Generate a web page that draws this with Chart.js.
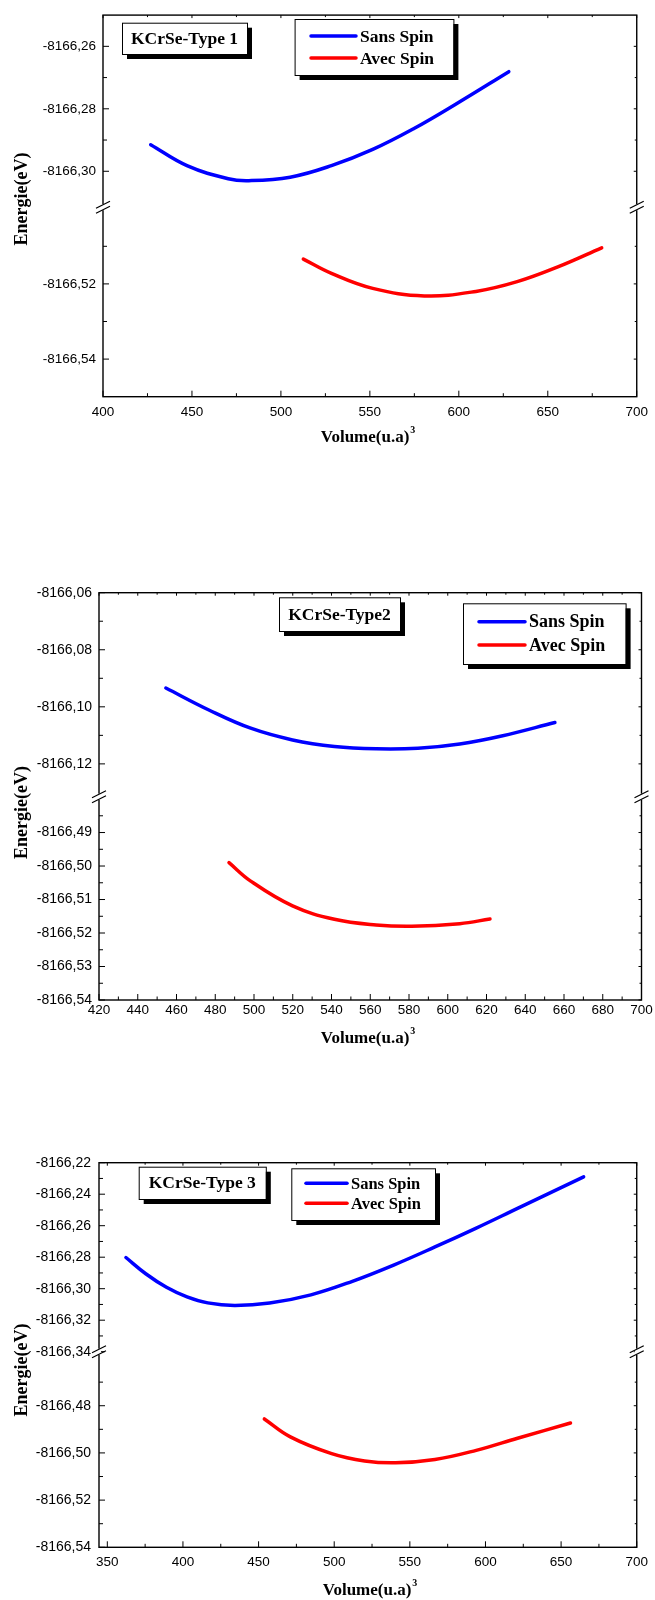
<!DOCTYPE html>
<html>
<head>
<meta charset="utf-8">
<script src="https://cdn.jsdelivr.net/npm/chart.js@4.4.1/dist/chart.umd.min.js"></script>
<style>
html,body{margin:0;padding:0;background:#fff;}
body{width:655px;height:1600px;position:relative;overflow:hidden;}
canvas{position:absolute;left:0;}
</style>
</head>
<body>
<canvas id="c1" width="655" height="450" style="top:0px"></canvas>
<canvas id="c2" width="655" height="490" style="top:560px"></canvas>
<canvas id="c3" width="655" height="480" style="top:1120px"></canvas>
<script>
// --- data ---
// KCrSe-Type 1
const volSans1 = [426.8, 447.2, 470.4, 482.0, 505.2, 528.4, 551.6, 574.8, 598.0, 628.1];
const eSans1   = [-8166.2915, -8166.2982, -8166.3024, -8166.3030, -8166.3019, -8166.2982, -8166.2930, -8166.2863, -8166.2786, -8166.2681];
const volAvec1 = [512.6, 528.4, 551.6, 580.6, 609.6, 632.8, 656.0, 680.3];
const eAvec1   = [-8166.5134, -8166.5172, -8166.5212, -8166.5232, -8166.5220, -8166.5194, -8166.5154, -8166.5104];
// KCrSe-Type2
const volSans2 = [454.5, 476.7, 498.3, 519.9, 541.5, 563.0, 584.6, 606.2, 627.8, 655.3];
const eSans2   = [-8166.0934, -8166.1011, -8166.1075, -8166.1116, -8166.1139, -8166.1147, -8166.1145, -8166.1130, -8166.1102, -8166.1055];
const volAvec2 = [487.1, 498.3, 519.9, 541.5, 563.0, 581.4, 606.2, 621.8];
const eAvec2   = [-8166.4990, -8166.5045, -8166.5119, -8166.5159, -8166.5176, -8166.5180, -8166.5172, -8166.5158];
// KCrSe-Type 3
const volSans3 = [362.3, 375.4, 389.1, 402.7, 416.4, 434.1, 457.3, 484.6, 512.0, 539.3, 566.6, 593.9, 621.2, 664.9];
const eSans3   = [-8166.2802, -8166.2905, -8166.2991, -8166.3052, -8166.3090, -8166.3106, -8166.3091, -8166.3039, -8166.2953, -8166.2850, -8166.2735, -8166.2615, -8166.2490, -8166.2290];
const volAvec3 = [453.8, 471.0, 498.3, 520.1, 540.6, 566.6, 593.9, 621.2, 656.2];
const eAvec3   = [-8166.4856, -8166.4932, -8166.5003, -8166.5034, -8166.5042, -8166.5028, -8166.4989, -8166.4938, -8166.4873];

// tick labels
const xTicks1 = [400, 450, 500, 550, 600, 650, 700];
const xMinor1 = [425, 475, 525, 575, 625, 675];
const yUpTicks1 = [-8166.26, -8166.28, -8166.30];
const yUpMinor1 = [-8166.27, -8166.29];
const yLowTicks1 = [-8166.52, -8166.54];
const yLowMinor1 = [-8166.51, -8166.53];

const xTicks2 = [420, 440, 460, 480, 500, 520, 540, 560, 580, 600, 620, 640, 660, 680, 700];
const xMinor2 = [430, 450, 470, 490, 510, 530, 550, 570, 590, 610, 630, 650, 670, 690];
const yUpTicks2 = [-8166.06, -8166.08, -8166.10, -8166.12];
const yUpMinor2 = [-8166.07, -8166.09, -8166.11];
const yLowTicks2 = [-8166.49, -8166.50, -8166.51, -8166.52, -8166.53, -8166.54];
const yLowMinor2 = [-8166.485, -8166.495, -8166.505, -8166.515, -8166.525, -8166.535];

const xTicks3 = [350, 400, 450, 500, 550, 600, 650, 700];
const xMinor3 = [375, 425, 475, 525, 575, 625, 675];
const yUpTicks3 = [-8166.22, -8166.24, -8166.26, -8166.28, -8166.30, -8166.32, -8166.34];
const yUpMinor3 = [-8166.23, -8166.25, -8166.27, -8166.29, -8166.31, -8166.33];
const yLowTicks3 = [-8166.48, -8166.50, -8166.52, -8166.54];
const yLowMinor3 = [-8166.47, -8166.49, -8166.51, -8166.53];

const SERIF = '"Liberation Serif", "Times New Roman", serif';
const SANS = '"Liberation Sans", Arial, sans-serif';

function pts(v, e){ return v.map((x, i) => ({x: x, y: e[i]})); }
function fmt(v){ return v.toFixed(2).replace('.', ','); }

function shadowBox(ctx, x, y, w, h){
  ctx.fillStyle = '#000';
  ctx.fillRect(x + 5, y + 5, w, h);
  ctx.fillStyle = '#fff';
  ctx.fillRect(x, y, w, h);
  ctx.strokeStyle = '#000';
  ctx.lineWidth = 1;
  ctx.strokeRect(x + 0.5, y + 0.5, w, h);
}

// frame, inner ticks, axis break, boxes and titles
const frame = {
  id: 'frame',
  afterDraw(chart, args, o){
    const ctx = chart.ctx, a = chart.chartArea;
    const sx = chart.scales.x, su = chart.scales.yUp, sl = chart.scales.yLow;
    ctx.save();
    ctx.strokeStyle = '#000';
    ctx.lineWidth = 1.4;
    ctx.strokeRect(a.left, a.top, a.right - a.left, a.bottom - a.top);

    ctx.lineWidth = 1;
    ctx.beginPath();
    const tx = (v, len, len2) => {
      const p = sx.getPixelForValue(v);
      ctx.moveTo(p, a.bottom); ctx.lineTo(p, a.bottom - len);
      ctx.moveTo(p, a.top); ctx.lineTo(p, a.top + len2);
    };
    const ty = (s, v, len, len2) => {
      const p = s.getPixelForValue(v);
      ctx.moveTo(a.left, p); ctx.lineTo(a.left + len, p);
      ctx.moveTo(a.right, p); ctx.lineTo(a.right - len2, p);
    };
    sx.ticks.forEach(t => tx(t.value, 6, 3));
    o.xMinor.forEach(v => tx(v, 3.5, 2));
    su.ticks.forEach(t => ty(su, t.value, 6, 3));
    sl.ticks.forEach(t => ty(sl, t.value, 6, 3));
    o.yUpMinor.forEach(v => ty(su, v, 4, 2));
    o.yLowMinor.forEach(v => ty(sl, v, 4, 2));
    ctx.stroke();

    // break marks
    const by = su.bottom;
    [a.left, a.right].forEach(x => {
      ctx.fillStyle = '#fff';
      ctx.fillRect(x - 2, by - 3, 4, 6);
      ctx.beginPath();
      ctx.lineWidth = 1.2;
      ctx.moveTo(x - 7, by + 1); ctx.lineTo(x + 7, by - 6);
      ctx.moveTo(x - 7, by + 6); ctx.lineTo(x + 7, by - 1);
      ctx.stroke();
    });

    // title box
    const t = o.title;
    shadowBox(ctx, t.x, t.y, t.w, t.h);
    ctx.fillStyle = '#000';
    ctx.font = 'bold 17.5px ' + SERIF;
    ctx.textAlign = 'center';
    ctx.textBaseline = 'middle';
    ctx.fillText(t.text, t.x + t.w / 2, t.y + t.h / 2 + 1);

    // legend box
    const L = o.leg;
    shadowBox(ctx, L.x, L.y, L.w, L.h);
    ctx.textAlign = 'left';
    ctx.font = 'bold ' + L.size + 'px ' + SERIF;
    chart.data.datasets.forEach((ds, i) => {
      const yy = L.rows[i];
      ctx.strokeStyle = ds.borderColor;
      ctx.lineWidth = 3.5;
      ctx.lineCap = 'round';
      ctx.beginPath();
      ctx.moveTo(L.x1, yy); ctx.lineTo(L.x2, yy);
      ctx.stroke();
      ctx.fillStyle = '#000';
      ctx.fillText(ds.label, L.tx, yy + 1);
    });

    // axis titles
    ctx.font = 'bold 18px ' + SERIF;
    ctx.textAlign = 'center';
    ctx.save();
    ctx.translate(o.yTitle[0], o.yTitle[1]);
    ctx.rotate(-Math.PI / 2);
    ctx.fillText('Energie(eV)', 0, 0);
    ctx.restore();
    ctx.font = 'bold 17px ' + SERIF;
    const main = 'Volume(u.a)';
    const w = ctx.measureText(main).width;
    const cx = o.xTitle[0], cy = o.xTitle[1];
    ctx.textAlign = 'left';
    ctx.fillText(main, cx - (w + 6) / 2, cy);
    ctx.font = 'bold 10px ' + SERIF;
    ctx.fillText('3', cx - (w + 6) / 2 + w + 1, cy - 8);
    ctx.restore();
  }
};

function energyChart(id, p){
  const yAxis = (ticks, range, weight, fs, pad) => ({
    type: 'linear', position: 'left', stack: 'e', stackWeight: weight,
    min: range[0], max: range[1],
    grid: {display: false, drawTicks: false}, border: {display: false},
    ticks: {color: '#000', font: {family: SANS, size: fs}, padding: pad, autoSkip: false, callback: v => fmt(v)},
    afterBuildTicks: s => { s.ticks = ticks.map(v => ({value: v})); },
    afterFit: s => { s.width = p.left; }
  });
  return new Chart(document.getElementById(id), {
    type: 'line',
    data: {
      datasets: [
        {label: 'Sans Spin', data: pts(p.vs, p.es), borderColor: '#0000ff', yAxisID: 'yUp'},
        {label: 'Avec Spin', data: pts(p.va, p.ea), borderColor: '#ff0000', yAxisID: 'yLow'}
      ]
    },
    options: {
      responsive: false,
      animation: false,
      elements: {
        point: {radius: 0},
        line: {borderWidth: 3.5, tension: 0.4, borderCapStyle: 'round', fill: false}
      },
      layout: {padding: {left: 0, top: p.top, right: 655 - p.right, bottom: 0}},
      plugins: {
        legend: {display: false},
        tooltip: {enabled: false},
        frame: {xMinor: p.xMinor, yUpMinor: p.yUpMinor, yLowMinor: p.yLowMinor,
                title: p.title, leg: p.leg, yTitle: p.yTitle, xTitle: p.xTitle}
      },
      scales: {
        x: {
          type: 'linear', min: p.xRange[0], max: p.xRange[1],
          grid: {display: false, drawTicks: false}, border: {display: false},
          ticks: {color: '#000', font: {family: SANS, size: p.xfs}, padding: p.xpad, autoSkip: false, maxRotation: 0},
          afterBuildTicks: s => { s.ticks = p.xTicks.map(v => ({value: v})); },
          afterFit: s => { s.height = p.h - p.bottom; }
        },
        // stacked axes: the first one listed sits at the bottom
        yLow: yAxis(p.yLowTicks, p.yLowRange, p.wLow, p.yfs, p.ypad),
        yUp: yAxis(p.yUpTicks, p.yUpRange, p.wUp, p.yfs, p.ypad)
      }
    },
    plugins: [frame]
  });
}

energyChart('c1', {
  vs: volSans1, es: eSans1, va: volAvec1, ea: eAvec1,
  h: 450, left: 103, right: 643.5, top: 14.7, bottom: 396.7,
  xRange: [400, 700], xTicks: xTicks1, xMinor: xMinor1,
  yUpTicks: yUpTicks1, yUpMinor: yUpMinor1, yUpRange: [-8166.3115, -8166.25], wUp: 192.3,
  yLowTicks: yLowTicks1, yLowMinor: yLowMinor1, yLowRange: [-8166.55, -8166.4996], wLow: 189.7,
  xfs: 13.5, yfs: 13.5, xpad: 7, ypad: 7,
  title: {x: 122, y: 22.7, w: 125, h: 31.3, text: 'KCrSe-Type 1'},
  leg: {x: 294.6, y: 19, w: 158.8, h: 56, x1: 311, x2: 356, tx: 360, rows: [36, 58], size: 17.5},
  yTitle: [22, 199], xTitle: [368, 438]
});

energyChart('c2', {
  vs: volSans2, es: eSans2, va: volAvec2, ea: eAvec2,
  h: 490, left: 99, right: 641.5, top: 32.7, bottom: 440,
  xRange: [420, 700], xTicks: xTicks2, xMinor: xMinor2,
  yUpTicks: yUpTicks2, yUpMinor: yUpMinor2, yUpRange: [-8166.1315, -8166.06], wUp: 204,
  yLowTicks: yLowTicks2, yLowMinor: yLowMinor2, yLowRange: [-8166.54, -8166.4793], wLow: 203.3,
  xfs: 13.5, yfs: 14, xpad: 2, ypad: 7,
  title: {x: 279, y: 37.3, w: 121, h: 33.7, text: 'KCrSe-Type2'},
  leg: {x: 463, y: 43.3, w: 162.6, h: 60.7, x1: 479, x2: 525, tx: 529, rows: [61.7, 85], size: 18},
  yTitle: [22, 252.5], xTitle: [368, 479]
});

energyChart('c3', {
  vs: volSans3, es: eSans3, va: volAvec3, ea: eAvec3,
  h: 480, left: 99, right: 642.7, top: 42.7, bottom: 427.3,
  xRange: [344.5, 700], xTicks: xTicks3, xMinor: xMinor3,
  yUpTicks: yUpTicks3, yUpMinor: yUpMinor3, yUpRange: [-8166.34, -8166.22], wUp: 189,
  yLowTicks: yLowTicks3, yLowMinor: yLowMinor3, yLowRange: [-8166.54, -8166.4571], wLow: 195.6,
  xfs: 13.5, yfs: 14, xpad: 7, ypad: 8,
  title: {x: 138.7, y: 46.7, w: 127.1, h: 32.3, text: 'KCrSe-Type 3'},
  leg: {x: 291.3, y: 48.3, w: 143.7, h: 51.7, x1: 306, x2: 347, tx: 351, rows: [63.3, 83.3], size: 16.5},
  yTitle: [22, 250], xTitle: [370, 471]
});
</script>
</body>
</html>
